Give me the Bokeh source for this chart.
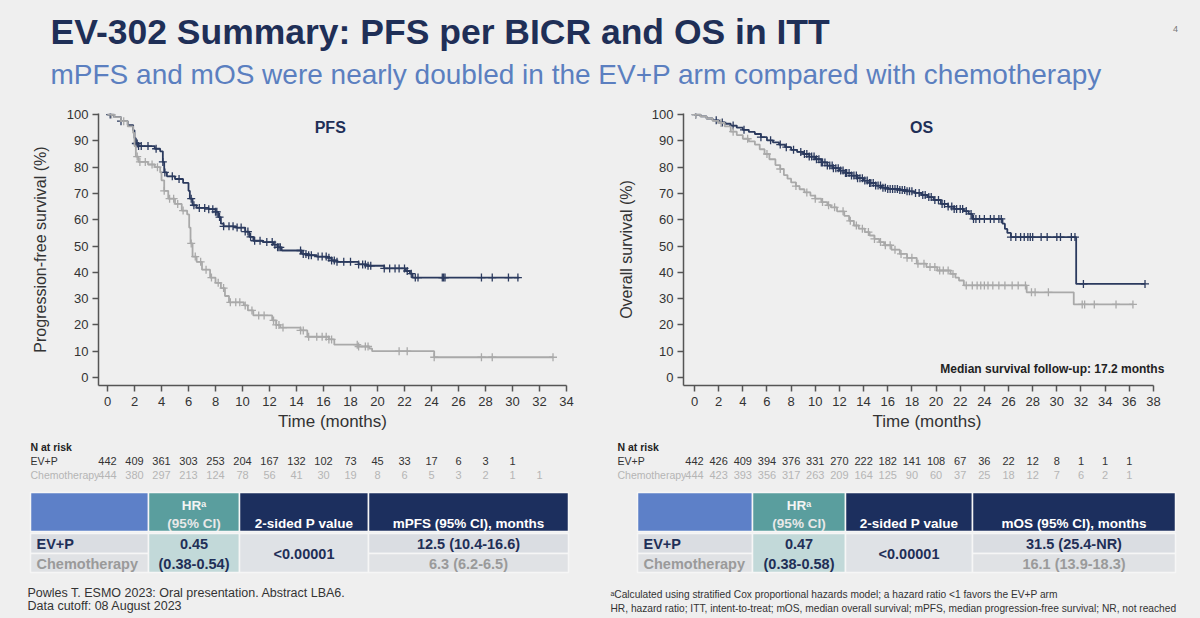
import numpy as np
from bokeh.plotting import figure
from bokeh.models import Range1d, FixedTicker, Label
from bokeh.layouts import column, row
from bokeh.embed import file_html
from bokeh.resources import INLINE
from bokeh.core.properties import value

# ---------------- data ----------------
# PFS step curves (time in months, survival %)
pfs_evp_t = [0, 0.5, 1.0, 1.5, 1.9, 2.0, 2.1, 2.3, 3.5, 3.9, 4.1, 4.2, 4.4, 5.0, 5.6, 6.0, 6.1, 6.3,
             6.6, 7.5, 8.0, 8.2, 8.4, 8.6, 9.5, 10.2, 10.5, 10.8, 11.5, 12.3, 12.6, 12.9, 14.4, 14.8,
             15.5, 16.3, 16.6, 17.0, 18.6, 19.2, 20.5, 22.1, 22.4, 22.6, 30.5]
pfs_evp_s = [100, 99, 97.5, 96, 94, 91, 89, 88, 87, 86, 82, 78, 76.5, 75.5, 74, 71, 68, 65.5,
             64.5, 64, 63, 61, 58.5, 57.5, 57, 55.5, 53.5, 52, 51.5, 50.5, 49.5, 48.3, 47, 46.5,
             46, 45.5, 44.5, 44, 43, 42.5, 41.5, 40.5, 39.5, 38, 38]
pfs_chemo_t = [0, 0.5, 1.0, 1.5, 1.9, 2.0, 2.1, 2.3, 3.0, 3.5, 3.9, 4.0, 4.2, 4.5, 5.0, 5.5, 5.9,
               6.05, 6.15, 6.3, 6.6, 7.0, 7.6, 8.0, 8.4, 8.7, 9.0, 10.1, 10.4, 10.8, 12.2, 12.5,
               12.8, 14.3, 14.8, 16.4, 16.8, 18.6, 19.4, 19.6, 24.2, 33.0]
pfs_chemo_s = [100, 99, 97.5, 95.5, 93, 88, 84, 82, 81, 80, 78, 75, 71, 68, 66, 63.5, 62,
               57, 51, 46, 44, 41, 38, 36, 34, 31, 28.6, 27.4, 25.5, 23.6, 21.7, 20,
               19, 17.9, 15.5, 14.5, 12.5, 11.8, 11, 10, 7.7, 7.7]
pfs_evp_cens = [0.2, 1.0, 2.1, 2.2, 2.3, 2.5, 3.0, 3.6, 4.1, 4.25, 4.8, 5.3, 6.2, 6.4, 6.8, 7.2,
                7.5, 7.8, 8.0, 8.1, 8.3, 8.6, 9.0, 9.3, 9.6, 9.9, 10.2, 10.4, 10.6, 10.9, 11.3,
                11.8, 12.2, 12.4, 12.6, 12.7, 12.8, 14.3, 14.5, 14.7, 14.9, 15.1, 15.6, 15.9,
                16.2, 16.4, 16.6, 16.8, 17.0, 17.5, 18.0, 18.6, 18.9, 19.1, 19.3, 19.5, 20.5,
                20.9, 21.3, 21.6, 22.0, 22.2, 22.5, 22.8, 23.0, 24.8, 24.9, 25.0, 27.7, 28.5,
                29.7, 30.4]
pfs_chemo_cens = [0.3, 1.2, 2.2, 2.4, 2.8, 3.3, 3.7, 4.2, 4.6, 4.9, 5.2, 5.6, 6.2, 6.5, 6.9,
                  7.3, 7.7, 8.2, 8.6, 9.1, 9.5, 9.8, 10.2, 10.7, 11.2, 11.6, 12.3, 12.5, 12.7,
                  13.0, 14.3, 14.5, 14.9, 15.5, 15.9, 16.2, 16.4, 16.6, 18.5, 18.6, 19.1, 19.3,
                  21.6, 22.2, 24.2, 27.7, 28.5, 33.0]

# OS step curves
os_evp_t = [0, 0.5, 1.0, 1.5, 2.0, 2.5, 3.0, 3.5, 4.0, 4.5, 5.0, 5.5, 6.0, 6.5, 7.0, 7.5, 8.0,
            8.5, 9.0, 9.5, 10.0, 10.5, 11.0, 11.5, 12.0, 12.5, 13.0, 13.5, 14.0, 14.5, 15.0,
            15.5, 16.0, 17.0, 17.5, 18.2, 18.8, 19.3, 19.8, 20.4, 21.0, 21.5, 22.3, 22.7, 23.0,
            25.5, 25.7, 25.9, 26.2, 31.6, 37.3]
os_evp_s = [100, 99.3, 98.5, 97.8, 97, 96.5, 95.8, 95, 94.2, 93.4, 92.6, 91.4, 90.2, 89.4,
            88.6, 87.6, 86.6, 85.8, 85, 84, 83, 81.8, 80.6, 79.6, 78.7, 77.8, 76.8, 75.8, 74.9,
            74, 73, 72.2, 71.7, 71.3, 70.8, 70.2, 69.4, 68.6, 67.5, 66, 65, 64.1, 63.3, 62.2,
            60.3, 58.5, 56.5, 55, 53.4, 35.6, 35.6]
os_chemo_t = [0, 0.5, 1.0, 1.5, 2.0, 2.5, 3.0, 3.5, 4.0, 4.5, 5.0, 5.4, 5.8, 6.2, 6.7, 7.1,
              7.4, 7.7, 8.0, 8.4, 8.7, 9.1, 9.6, 10.0, 10.5, 11.0, 11.3, 11.8, 12.4, 12.8, 13.2,
              13.6, 14.1, 14.5, 14.9, 15.3, 15.7, 16.3, 17.0, 17.6, 18.4, 19.2, 20.1, 21.2,
              21.6, 21.9, 22.3, 27.5, 31.4, 36.3]
os_chemo_s = [100, 99.3, 98.5, 97.6, 96.8, 95.5, 93.5, 92.2, 90.8, 89.8, 88.6, 86.8, 85, 83,
              80.8, 79.3, 77, 75.6, 74.2, 72.8, 71.6, 70.4, 69.2, 68, 66.7, 65.5, 64.7, 63.2,
              61.5, 59.6, 57.8, 56.6, 55.3, 54, 52.7, 51.5, 50.3, 48.6, 47, 45.5, 43.3, 42, 40.7,
              39.4, 38, 36.9, 35, 32.4, 27.8, 27.8]
os_evp_cens = [0.1, 1.8, 2.3, 3.2, 4.1, 5.5, 6.3, 7.1, 7.6, 8.2, 8.8, 9.1, 9.3, 9.5, 9.7, 9.9,
               10.1, 10.3, 10.5, 10.6, 10.8, 11.0, 11.2, 11.4, 11.5, 11.7, 11.9, 12.1, 12.3,
               12.5, 12.6, 12.8, 13.0, 13.2, 13.4, 13.5, 13.7, 13.9, 14.1, 14.3, 14.5, 14.6,
               14.8, 15.0, 15.2, 15.4, 15.6, 15.8, 16.0, 16.2, 16.4, 16.6, 16.8, 17.0, 17.2,
               17.4, 17.6, 17.8, 18.0, 18.3, 18.6, 18.9, 19.1, 19.4, 19.6, 19.9, 20.2, 20.5,
               20.7, 21.0, 21.3, 21.5, 21.7, 22.0, 22.2, 22.5, 22.9, 23.1, 23.3, 23.6, 24.0,
               24.5, 24.8, 25.2, 25.4, 26.2, 26.6, 27.0, 27.3, 27.6, 27.8, 28.0, 28.7, 29.2,
               30.0, 30.3, 31.2, 31.5, 32.2, 37.3]
os_chemo_cens = [0.1, 2.2, 3.2, 4.4, 6.0, 7.1, 8.4, 9.3, 10.0, 10.6, 11.1, 11.6, 12.3, 12.9,
                 13.4, 13.9, 14.4, 14.9, 15.4, 15.8, 16.2, 16.6, 17.1, 17.6, 18.0, 18.5, 19.0,
                 19.5, 19.9, 20.3, 20.6, 21.0, 21.4, 22.5, 23.0, 23.4, 23.7, 24.0, 24.3, 24.7,
                 25.2, 25.7, 26.3, 26.8, 27.4, 27.9, 28.2, 29.3, 32.1, 32.3, 33.1, 34.9, 36.3]

# Numbers at risk (every 2 months)
pfs_risk_evp = [442, 409, 361, 303, 253, 204, 167, 132, 102, 73, 45, 33, 17, 6, 3, 1]
pfs_risk_chemo = [444, 380, 297, 213, 124, 78, 56, 41, 30, 19, 8, 6, 5, 3, 2, 1, 1]
os_risk_evp = [442, 426, 409, 394, 376, 331, 270, 222, 182, 141, 108, 67, 36, 22, 12, 8, 1, 1, 1]
os_risk_chemo = [444, 423, 393, 356, 317, 263, 209, 164, 125, 90, 60, 37, 25, 18, 12, 7, 6, 2, 1]

pfs_ticks = list(range(0, 35, 2))
os_ticks = list(range(0, 39, 2))
y_ticks = list(range(0, 101, 10))

# summary tables
pfs_table = {"hr": "0.45", "ci": "(0.38-0.54)", "p": "<0.00001", "col": "mPFS (95% CI), months",
             "evp": "12.5 (10.4-16.6)", "chemo": "6.3 (6.2-6.5)"}
os_table = {"hr": "0.47", "ci": "(0.38-0.58)", "p": "<0.00001", "col": "mOS (95% CI), months",
            "evp": "31.5 (25.4-NR)", "chemo": "16.1 (13.9-18.3)"}

# ---------------- style ----------------
BG = "#efefef"
NAVY = "#1f2f57"
SUB = "#5b7fc0"
EVP_C = "#2b3a5e"
CHEMO_C = "#a9a9a9"
TXT = "#333333"
SANS = "Liberation Sans"


def blank(width, height, xr, yr):
    p = figure(width=width, height=height, x_range=xr, y_range=yr, output_backend="svg",
               toolbar_location=None, x_axis_location=None, y_axis_location=None,
               min_border=0, background_fill_color=BG, border_fill_color=BG,
               outline_line_color=None)
    p.grid.visible = False
    return p


def txt(p, x, y, s, size, color=TXT, align="left", style="normal", font=SANS, xoff=0):
    p.text(x=[x], y=[y], text=[s], text_font=value(font), text_font_size=value(size),
           text_color=color, text_align=align, text_baseline="middle",
           text_font_style=style, x_offset=xoff)


def surv_at(t, s, tc):
    t = np.asarray(t)
    s = np.asarray(s)
    idx = np.searchsorted(t, np.asarray(tc), side="right") - 1
    return s[np.clip(idx, 0, len(s) - 1)]


def km_figure(xr, x_last, bl, br, ticks, ylabel, ylab_standoff, curves):
    p = figure(width=600, height=335, x_range=Range1d(*xr), y_range=Range1d(-3.04, 100.4),
               output_backend="svg", toolbar_location=None, min_border_left=bl,
               min_border_right=br, min_border_top=13, min_border_bottom=50,
               background_fill_color=BG, border_fill_color=BG, outline_line_color=None)
    p.grid.visible = False
    p.xaxis.ticker = FixedTicker(ticks=ticks)
    p.yaxis.ticker = FixedTicker(ticks=y_ticks)
    p.xaxis.bounds = (xr[0], x_last)
    for ax in (p.xaxis[0], p.yaxis[0]):
        ax.axis_line_color = "#555555"
        ax.axis_line_width = 1.5
        ax.major_tick_line_color = "#555555"
        ax.major_tick_line_width = 1.5
        ax.major_tick_out = 6
        ax.major_tick_in = 0
        ax.minor_tick_out = 0
        ax.minor_tick_in = 0
        ax.major_label_text_font = SANS
        ax.major_label_text_font_size = "13px"
        ax.major_label_text_color = TXT
        ax.axis_label_text_font = SANS
        ax.axis_label_text_font_style = "normal"
        ax.axis_label_text_color = TXT
    p.xaxis.major_label_standoff = 5
    p.xaxis.axis_label = "Time (months)"
    p.xaxis.axis_label_text_font_size = "17px"
    p.xaxis.axis_label_standoff = 3
    p.yaxis.major_label_standoff = 4
    p.yaxis.axis_label = ylabel
    p.yaxis.axis_label_text_font_size = "16px"
    p.yaxis.axis_label_standoff = ylab_standoff
    for t, s, cens, color in curves:
        p.step(x=t, y=s, mode="after", line_color=color, line_width=1.8)
        p.scatter(x=cens, y=surv_at(t, s, cens), marker="cross", size=8,
                  line_color=color, line_width=1.3)
    return p


def risk_figure(km, bl, br, label_x, evp, chemo):
    xr = km.x_range
    scale = (600 - bl - br) / (xr.end - xr.start)
    rng = Range1d(xr.start - bl / scale, xr.end + br / scale)
    p = blank(600, 50, rng, Range1d(50, 0))
    x0 = rng.start
    txt(p, x0, 11, "N at risk", "10.5px", color="#222222", style="bold", xoff=label_x)
    txt(p, x0, 25, "EV+P", "10.5px", color=TXT, xoff=label_x)
    txt(p, x0, 39, "Chemotherapy", "10.5px", color="#b5b5b5", xoff=label_x)
    p.text(x=list(range(0, 2 * len(evp), 2)), y=[25] * len(evp), text=[str(v) for v in evp],
           text_font=value(SANS), text_font_size=value("11px"), text_color=TXT,
           text_align="center", text_baseline="middle")
    p.text(x=list(range(0, 2 * len(chemo), 2)), y=[39] * len(chemo),
           text=[str(v) for v in chemo], text_font=value(SANS),
           text_font_size=value("11px"), text_color="#b5b5b5",
           text_align="center", text_baseline="middle")
    return p


# ---------------- header ----------------
head = blank(1200, 100, Range1d(0, 1200), Range1d(100, 0))
txt(head, 50, 31, "EV-302 Summary: PFS per BICR and OS in ITT", "35.5px", color=NAVY, style="bold")
txt(head, 50, 74, "mPFS and mOS were nearly doubled in the EV+P arm compared with chemotherapy",
    "28px", color=SUB)
txt(head, 1175, 28, "4", "9px", color="#777777", align="center")

# ---------------- KM plots ----------------
pfs = km_figure((-0.667, 34.0), 34.0, 98, 34, pfs_ticks, "Progression-free survival (%)", 15,
                [(pfs_evp_t, pfs_evp_s, pfs_evp_cens, EVP_C),
                 (pfs_chemo_t, pfs_chemo_s, pfs_chemo_cens, CHEMO_C)])
pfs.add_layout(Label(x=16.5, y=95, text="PFS", text_font=SANS, text_font_size="16px",
                     text_font_style="bold", text_color=NAVY, text_align="center",
                     text_baseline="middle"))

osf = km_figure((-0.91, 39.41), 38.0, 83, 30, os_ticks, "Overall survival (%)", 14,
                [(os_evp_t, os_evp_s, os_evp_cens, EVP_C),
                 (os_chemo_t, os_chemo_s, os_chemo_cens, CHEMO_C)])
osf.add_layout(Label(x=18.8, y=95, text="OS", text_font=SANS, text_font_size="16px",
                     text_font_style="bold", text_color=NAVY, text_align="center",
                     text_baseline="middle"))
osf.add_layout(Label(x=38.9, y=3.4, text="Median survival follow-up: 17.2 months",
                     text_font=SANS, text_font_size="12px", text_font_style="bold",
                     text_color="#222222", text_align="right", text_baseline="middle"))

pfs_risk = risk_figure(pfs, 98, 34, 30, pfs_risk_evp, pfs_risk_chemo)
os_risk = risk_figure(osf, 83, 30, 17, os_risk_evp, os_risk_chemo)

# ---------------- summary tables + footnotes ----------------
bot = blank(1200, 133, Range1d(0, 1200), Range1d(618, 485))


def table(p, xs, tb, label_x):
    x0, x1, x2, x3, x4 = xs
    top, hb, mid, bottom = 492, 531, 553, 572
    sep = "#f6f6f6"
    p.quad(left=[x0, x1, x2, x3], right=[x1, x2, x3, x4], top=[top] * 4, bottom=[hb] * 4,
           fill_color=["#5d80c8", "#5a9e9e", "#1c2f5e", "#1c2f5e"], line_color=sep, line_width=1.5)
    p.quad(left=[x0, x0, x1, x2, x3, x3], right=[x1, x1, x2, x3, x4, x4],
           top=[hb + 2, mid, hb + 2, hb + 2, hb + 2, mid],
           bottom=[mid, bottom, bottom, bottom, mid, bottom],
           fill_color=["#dadde2", "#e0e2e5", "#c2d9d9", "#dfe2e6", "#dadde2", "#e0e2e5"],
           line_color=sep, line_width=1.5)
    c1, c2, c3 = (x1 + x2) / 2, (x2 + x3) / 2, (x3 + x4) / 2
    hs, bs = "13.5px", "14.5px"
    txt(p, c1, 505, "HRᵃ", hs, color="#f4f4f4", align="center", style="bold")
    txt(p, c1, 523, "(95% CI)", hs, color="#e8e8e8", align="center", style="bold")
    txt(p, c2, 523, "2-sided P value", hs, color="white", align="center", style="bold")
    txt(p, c3, 523, tb["col"], hs, color="white", align="center", style="bold")
    txt(p, label_x, 543, "EV+P", bs, color=NAVY, style="bold")
    txt(p, label_x, 563, "Chemotherapy", bs, color="#9a9a9a", style="bold")
    txt(p, c1, 543, tb["hr"], bs, color=NAVY, align="center", style="bold")
    txt(p, c1, 563, tb["ci"], bs, color=NAVY, align="center", style="bold")
    txt(p, c2, 553, tb["p"], bs, color=NAVY, align="center", style="bold")
    txt(p, c3, 543, tb["evp"], bs, color=NAVY, align="center", style="bold")
    txt(p, c3, 563, tb["chemo"], bs, color="#9a9a9a", align="center", style="bold")


table(bot, (30, 148, 239, 368, 568), pfs_table, 36)
table(bot, (637, 752, 845, 972, 1175), os_table, 643)

txt(bot, 27, 592, "Powles T. ESMO 2023: Oral presentation. Abstract LBA6.", "12.5px")
txt(bot, 27, 605, "Data cutoff: 08 August 2023", "12.5px")
txt(bot, 610, 594, "ᵃCalculated using stratified Cox proportional hazards model; a hazard ratio <1 favors the EV+P arm",
    "10.2px")
txt(bot, 610, 608, "HR, hazard ratio; ITT, intent-to-treat; mOS, median overall survival; "
    "mPFS, median progression-free survival; NR, not reached", "10.2px")

bg_style = {"background-color": BG}
layout = column(head,
                row(pfs, osf, styles=bg_style),
                row(pfs_risk, os_risk, styles=bg_style),
                bot, styles=bg_style)
open("out.html", "w").write(file_html(layout, INLINE))
